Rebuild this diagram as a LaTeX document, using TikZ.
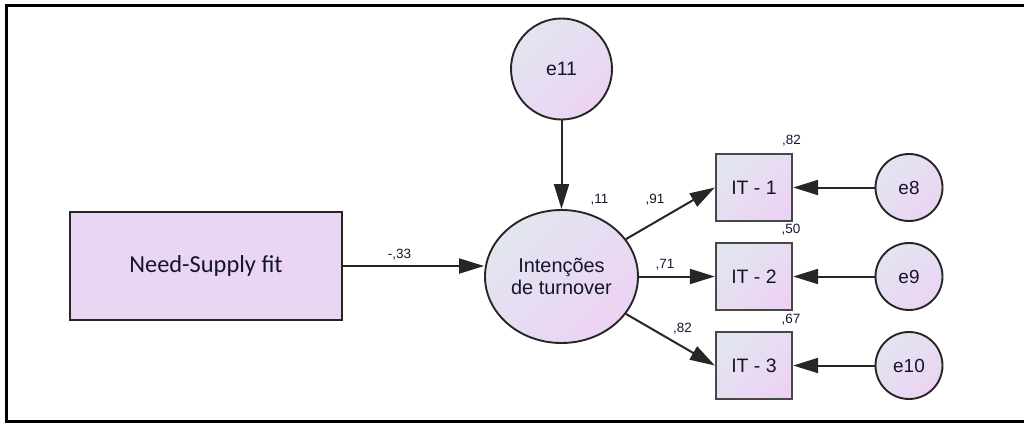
\documentclass[tikz,border=0pt]{standalone}
\usepackage{fontspec}
\setmainfont{Liberation Sans}
\newfontfamily\calfont{Carlito}
\usetikzlibrary{arrows.meta,shapes.geometric}
\definecolor{gA}{HTML}{E2E5F0}
\definecolor{gB}{HTML}{ECD3F3}
\definecolor{nsfill}{HTML}{EAD5F2}
\definecolor{txt}{HTML}{15152A}
\definecolor{bord}{HTML}{262626}
\tikzset{
  grad/.style={top color=gA, bottom color=gB, shading angle=45, draw=bord, line width=1.9bp, text=txt, inner sep=0pt},
  errc/.style={grad, circle, minimum size=67bp, font=\fontsize{19}{22}\selectfont},
  itbox/.style={grad, rectangle, minimum width=76bp, minimum height=67bp, line width=2.3bp, draw=bord!85!white, font=\fontsize{19.5}{22}\selectfont},
  num/.style={anchor=base, inner sep=0pt, text=txt, font=\fontsize{13.5}{15}\selectfont},
  conn/.style={line width=2bp, draw=bord, -{Triangle[length=25bp,width=15bp]}},
}
\begin{document}
\begin{tikzpicture}[x=1bp,y=-1bp]
\useasboundingbox (0,0) rectangle (1024,424);
\draw[line width=2.5bp, black] (1024,5.5) -- (6.5,5.5) -- (6.5,421.5) -- (1024,421.5);

\node[rectangle, fill=nsfill, draw=bord, line width=2.5bp, minimum width=272bp, minimum height=108bp, inner sep=0pt, text=txt, font=\calfont\fontsize{24.5}{28}\selectfont] (ns) at (206,266) {Need-Supply fit};

\node[grad, ellipse, minimum width=153bp, minimum height=133bp, align=center, font=\fontsize{20}{22}\selectfont] (it) at (561.5,276.5) {Intenções\\de turnover};

\node[grad, circle, minimum size=101bp, font=\fontsize{19.5}{22}\selectfont] (e11) at (561.5,69) {e11};

\node[itbox] (it1) at (754,187.5) {IT - 1};
\node[itbox] (it2) at (754,276.5) {IT - 2};
\node[itbox] (it3) at (754,365.5) {IT - 3};

\node[errc] (e8) at (909,187.5) {e8};
\node[errc] (e9) at (909,276.5) {e9};
\node[errc] (e10) at (909,365.5) {e10};

\draw[conn] (ns.east) -- (ns.east -| it.west);
\draw[conn] (e11) -- (it);
\draw[conn] (it) -- (it1.west);
\draw[conn] (it) -- (it2);
\draw[conn] (it) -- (it3.west);
\draw[conn] (e8) -- (it1);
\draw[conn] (e9) -- (it2);
\draw[conn] (e10) -- (it3);

\node[num] (l33) at (399.5,258) {-,33};
\node[num] (l11) at (599.5,203) {,11};
\node[num] (l91) at (655,203) {,91};
\node[num] (l71) at (665,268) {,71};
\node[num] (l82b) at (682.5,332) {,82};
\node[num] (l82) at (791.5,144) {,82};
\node[num] (l50) at (791,233) {,50};
\node[num] (l67) at (791,323) {,67};
\end{tikzpicture}
\end{document}
